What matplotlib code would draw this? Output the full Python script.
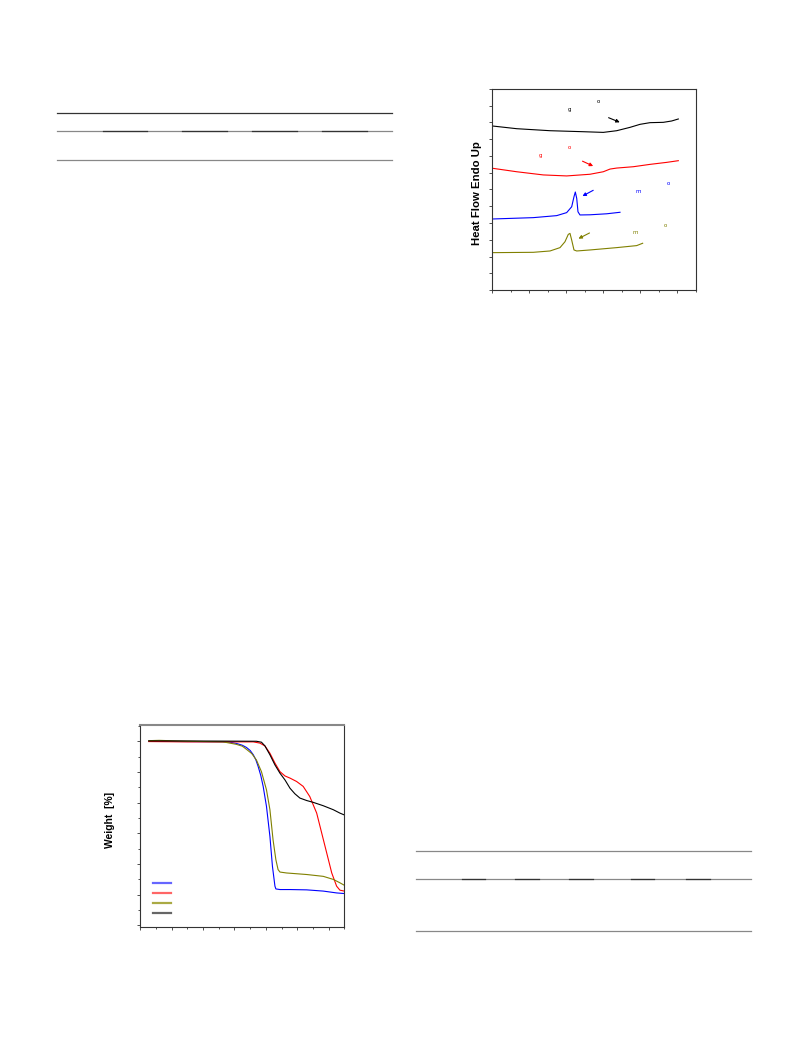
import matplotlib
matplotlib.use("Agg")
import matplotlib.pyplot as plt
from matplotlib.lines import Line2D
from matplotlib.ticker import MultipleLocator

# ---- DSC traces (temperature, heat flow offset) ----
dsc_black_t = [-49.5, -17.0, 28.0, 73.0, 100.0, 118.1, 136.1, 149.6, 163.1, 181.1, 192.4, 201.4]
dsc_black_h = [9.79, 9.63, 9.51, 9.45, 9.41, 9.51, 9.71, 9.89, 9.99, 10.01, 10.09, 10.21]
dsc_red_t = [-48.6, -17.0, 18.9, 50.5, 82.0, 100.0, 109.1, 118.1, 140.6, 163.1, 185.7, 201.4]
dsc_red_h = [7.26, 7.06, 6.87, 6.81, 6.91, 7.06, 7.22, 7.28, 7.36, 7.50, 7.62, 7.72]
dsc_blue_t = [-49.5, 5.4, 37.0, 50.5, 57.3, 60.4, 62.2, 64.1, 65.8, 68.5, 82.0, 104.6, 122.6]
dsc_blue_h = [4.24, 4.32, 4.44, 4.62, 4.97, 5.57, 5.85, 5.47, 4.67, 4.48, 4.49, 4.55, 4.64]
dsc_olive_t = [-49.5, 5.4, 28.0, 41.5, 48.2, 52.7, 55.0, 57.3, 60.4, 64.1, 82.0, 118.1, 145.1, 153.2]
dsc_olive_h = [2.23, 2.25, 2.33, 2.53, 2.88, 3.32, 3.38, 2.98, 2.39, 2.33, 2.39, 2.53, 2.65, 2.79]

# ---- TGA traces (temperature, weight %) ----
tga_blue_t = [27, 150, 260, 285, 306, 325, 338, 350, 360, 368, 375.5, 384, 391.5, 402, 413, 421, 429, 432, 445, 477, 530, 583, 625.5, 650]
tga_blue_w = [100, 99.9, 99.8, 99.7, 99.3, 98.7, 98.0, 97.0, 95.6, 94.0, 91.8, 88.8, 85.3, 78.8, 69.0, 59.3, 52.8, 51.9, 51.7, 51.7, 51.6, 51.2, 50.6, 50.4]
tga_olive_t = [27, 60, 150, 264, 306, 325, 338, 355, 370, 386, 402, 413, 423, 432, 439, 445, 466, 530, 583, 615, 636, 650]
tga_olive_w = [100.2, 100.3, 100.0, 99.8, 99.0, 98.4, 97.4, 96.0, 93.9, 90.1, 84.2, 77.7, 67.9, 61.4, 58.2, 57.4, 57.1, 56.6, 56.0, 55.0, 53.9, 53.1]
tga_red_t = [27, 150, 360, 381, 397, 413, 429, 445, 461, 477, 498, 519, 540, 562, 578, 594, 610, 625.5, 636, 650]
tga_red_w = [99.9, 99.8, 99.8, 99.4, 98.5, 96.1, 92.9, 90.1, 88.7, 88.0, 86.9, 85.3, 82.0, 76.6, 70.1, 63.6, 57.1, 52.8, 51.5, 51.2]
tga_black_t = [27, 150, 370, 386, 397, 413, 429, 445, 461, 477, 492.5, 508.5, 530, 551, 583, 615, 636, 650]
tga_black_w = [100.1, 100.1, 100.0, 99.7, 98.5, 95.6, 92.3, 89.6, 87.4, 84.7, 82.9, 81.5, 80.7, 80.1, 79.0, 77.7, 76.6, 76.0]

W, H = 793, 1057
fig = plt.figure(figsize=(W / 100, H / 100), dpi=100)

def box(l, t, r, b):
    return [l / W, 1 - b / H, (r - l) / W, (b - t) / H]

def hline(y, x0, x1, color, lw):
    fig.add_artist(Line2D([x0 / W, x1 / W], [1 - y / H, 1 - y / H], color=color, lw=lw))

# table rules (top-left and bottom-right)
hline(113.3, 56.7, 391.7, "#333333", 0.9)
hline(131, 56.7, 391.7, "#888888", 0.9)
for a, b in [(102.7, 147.3), (182.3, 226.7), (252, 296.7), (322, 366.7)]:
    hline(131, a, b, "#333333", 0.9)
hline(160, 56.7, 391.7, "#888888", 0.9)

hline(850.7, 416, 750.7, "#888888", 0.9)
hline(879.3, 416, 750.7, "#888888", 0.9)
for a, b in [(461.7, 485), (515, 539.3), (569, 592.7), (630.7, 654.3), (686, 710)]:
    hline(879.3, a, b, "#333333", 0.9)
hline(931, 416, 750.7, "#888888", 0.9)

# ---- DSC panel ----
ax1 = fig.add_axes(box(492.3, 89, 696, 290))
ax1.plot(dsc_black_t, dsc_black_h, color="black", lw=0.8)
ax1.plot(dsc_red_t, dsc_red_h, color="red", lw=0.8)
ax1.plot(dsc_blue_t, dsc_blue_h, color="blue", lw=0.8)
ax1.plot(dsc_olive_t, dsc_olive_h, color="#808000", lw=0.8)
ax1.set_xlim(-50, 225.3)
ax1.set_ylim(0, 12)
ax1.xaxis.set_major_locator(MultipleLocator(50))
ax1.xaxis.set_minor_locator(MultipleLocator(25))
ax1.yaxis.set_major_locator(MultipleLocator(1))

arrows = [((103.7, 10.35), (125.7, 9.95), "black"),
          ((68.5, 7.76), (89.7, 7.33), "red"),
          ((89.7, 6.03), (68.5, 5.53), "blue"),
          ((84.7, 3.48), (63.1, 2.99), "#808000")]
for start, end, c in arrows:
    ax1.annotate("", xy=end, xytext=start,
                 arrowprops=dict(arrowstyle="-|>", color=c, lw=0.8, mutation_scale=5))

marks = [(54.1, 10.79, "g", "black"), (93.2, 11.24, "o", "black"),
         (15.8, 8.0, "g", "red"), (54.1, 8.5, "o", "red"),
         (147.3, 5.87, "m", "blue"), (187.4, 6.33, "o", "blue"),
         (143.8, 3.42, "m", "#808000"), (183.8, 3.88, "o", "#808000")]
for x, y, s, c in marks:
    ax1.text(x, y, s, color=c, fontsize=4, ha="center", va="center")

fig.text(477 / W, 1 - 193 / H, "Heat Flow Endo Up", rotation=90, ha="center", va="center",
         fontsize=8.2, fontweight="bold", family="Liberation Sans")

# ---- TGA panel ----
ax2 = fig.add_axes(box(140.3, 725.3, 344.3, 926.7))
ax2.plot(tga_blue_t, tga_blue_w, color="blue", lw=0.8)
ax2.plot(tga_red_t, tga_red_w, color="red", lw=0.8)
ax2.plot(tga_olive_t, tga_olive_w, color="#808000", lw=0.8)
ax2.plot(tga_black_t, tga_black_w, color="black", lw=0.8)
ax2.set_xlim(0, 650)
ax2.set_ylim(39.6, 105.2)
ax2.xaxis.set_major_locator(MultipleLocator(100))
ax2.xaxis.set_minor_locator(MultipleLocator(50))
ax2.yaxis.set_major_locator(MultipleLocator(10))
ax2.yaxis.set_minor_locator(MultipleLocator(5))
ax2.spines["top"].set_color("#888888")
ax2.spines["top"].set_linewidth(1.5)

legend_y = [0.2185, 0.169, 0.119, 0.0695]
legend_c = ["#6666ff", "#ff6666", "#aaaa44", "#666666"]
for y, c in zip(legend_y, legend_c):
    ax2.add_line(Line2D([0.061, 0.149], [y, y], color=c, lw=1.6, transform=ax2.transAxes))

fig.text(110 / W, 1 - 820 / H, "Weight  [%]", rotation=90, ha="center", va="center",
         fontsize=7.4, fontweight="bold", family="Liberation Sans")

for ax in (ax1, ax2):
    for s in ("left", "bottom", "right"):
        ax.spines[s].set_color("#333333")
        ax.spines[s].set_linewidth(0.8)
    if ax is ax1:
        ax.spines["top"].set_color("#333333")
        ax.spines["top"].set_linewidth(0.8)
    ax.tick_params(which="major", direction="out", length=2.2, width=0.6, color="#333333",
                   labelbottom=False, labelleft=False, top=False, right=False)
    ax.tick_params(which="minor", direction="out", length=1.2, width=0.6, color="#333333",
                   top=False, right=False)

fig.savefig("out.png", dpi=100)
